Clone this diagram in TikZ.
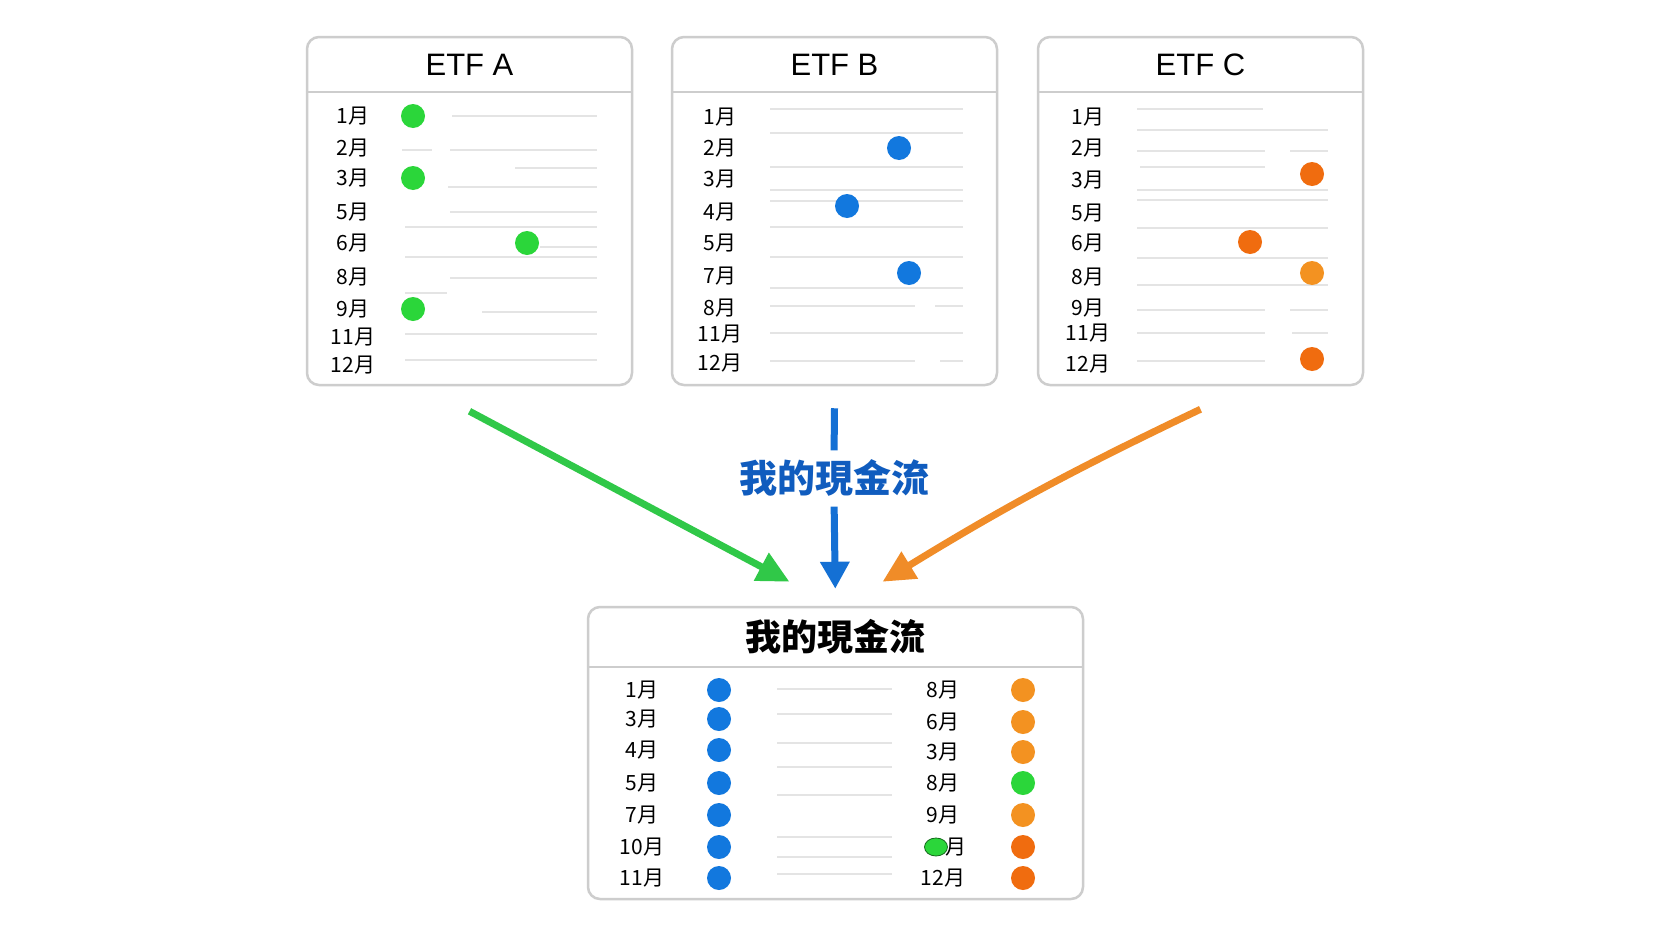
\documentclass[tikz,border=0pt]{standalone}
\usepackage{fontspec}
\setmainfont{Liberation Sans}
\newfontfamily\cjk{Noto Sans CJK TC}
\usetikzlibrary{arrows.meta,shapes.geometric}

\begin{document}
\begin{tikzpicture}[x=1pt,y=-1pt,
    box/.style={draw=my_frame, line width=2.5pt, rounded corners=12pt, fill=white},
    divider/.style={draw=my_frame, line width=2.5pt},
    head/.style={font=\fontsize{31}{31}\selectfont, inner sep=0pt},
    mon/.style={font=\cjk\fontsize{21}{21}\selectfont, inner sep=0pt},
    coin/.style={circle, inner sep=0pt, minimum size=24pt},
    gridline/.style={draw=my_rule, line width=1.5pt}]
\definecolor{my_frame}{RGB}{205,205,205}
\definecolor{my_rule}{RGB}{228,228,228}
\definecolor{my_green}{RGB}{43,214,58}
\definecolor{my_green_arrow}{RGB}{48,200,72}
\definecolor{my_blue}{RGB}{18,120,222}
\definecolor{my_blue_arrow}{RGB}{20,112,212}
\definecolor{my_blue_text}{RGB}{16,92,190}
\definecolor{my_orange}{RGB}{243,146,33}
\definecolor{my_orange_dark}{RGB}{240,108,15}
\definecolor{my_orange_arrow}{RGB}{240,140,40}

\useasboundingbox[fill=white] (0,0) rectangle (1666,937);

% the three ETF boxes and the sum box
\node[box, minimum width=325pt, minimum height=348pt] (etfA) at (469.5,211) {};
\node[box, minimum width=325pt, minimum height=348pt] (etfB) at (834.5,211) {};
\node[box, minimum width=325pt, minimum height=348pt] (etfC) at (1200.5,211) {};
\node[box, minimum width=495pt, minimum height=292pt] (sum) at (835.5,753) {};

\foreach \b/\t in {etfA/ETF A,etfB/ETF B,etfC/ETF C} {
    \node[head] (t\b) at ([yshift=-29pt]\b.north) {\t};
    \draw[divider] ([yshift=-56pt]\b.north west) -- ([yshift=-56pt]\b.north east);
}
\node[head, font=\cjk\bfseries\fontsize{36}{36}\selectfont] (tsum) at ([yshift=-31pt]sum.north) {我的現金流};
\draw[divider] ([yshift=-61pt]sum.north west) -- ([yshift=-61pt]sum.north east);

% faint rules
\foreach \y/\a/\b in {116/452/597,150/450/597,150/402/432,168/515/597,187/448/597,
    212/450/597,227/405/597,247/540/597,257/405/597,278/450/597,293/405/447,
    312/482/597,334/405/597,360/405/597,
    109/770/963,133/770/963,167/770/963,190/770/963,201/770/963,227/770/963,
    257/770/963,288/770/963,306/770/915,306/935/963,333/770/963,361/770/915,361/940/963,
    109/1137/1263,130/1137/1328,151/1137/1265,151/1290/1328,167/1140/1265,
    190/1137/1328,200/1137/1328,228/1137/1328,258/1137/1328,285/1137/1328,
    310/1137/1265,310/1290/1328,333/1137/1265,333/1292/1328,361/1137/1265,
    689/777/892,714/777/892,743/777/892,767/777/892,795/777/892,837/777/892,
    857/777/892,874/777/892}
    \draw[gridline] (\a,\y) -- (\b,\y);

% ETF A
\foreach \m/\y in {1/116,2/148,3/178,5/212,6/243,8/277,9/309,11/337,12/365}
    \node[mon] (a\m) at (353,\y) {{\m}月};
\foreach \m/\x in {1/413,3/413,6/527,9/413}
    \node[coin, fill=my_green] (ad\m) at (\x,0|-a\m) {};

% ETF B
\foreach \m/\y in {1/117,2/148,3/179,4/212,5/243,7/276,8/308,11/334,12/363}
    \node[mon] (b\m) at (720,\y) {{\m}月};
\node[coin, fill=my_blue] (bd2) at (899,148) {};
\node[coin, fill=my_blue] (bd4) at (847,206) {};
\node[coin, fill=my_blue] (bd7) at (909,273) {};

% ETF C
\foreach \m/\y in {1/117,2/148,3/180,5/213,6/243,8/277,9/308,11/333,12/364}
    \node[mon] (c\m) at (1088,\y) {{\m}月};
\node[coin, fill=my_orange_dark] (cd3) at (1312,174) {};
\node[coin, fill=my_orange_dark] (cd6) at (1250,242) {};
\node[coin, fill=my_orange] (cd8) at (1312,273) {};
\node[coin, fill=my_orange_dark] (cd12) at (1312,359) {};

% my cash flow
\foreach \m/\y [count=\i] in {1/690,3/719,4/750,5/783,7/815,10/847,11/878} {
    \node[mon] (s\i) at (642,\y) {{\m}月};
    \node[coin, fill=my_blue] (sd\i) at (719,\y) {};
}
\foreach \m/\y/\c [count=\i] in {8/690/my_orange,6/722/my_orange,3/752/my_orange,
    8/783/my_green,9/815/my_orange,12/878/my_orange_dark} {
    \node[mon] (r\i) at (943,\y) {{\m}月};
    \node[coin, fill=\c] (rd\i) at (1023,\y) {};
}
\node[mon] (r10) at (956,847) {月};
\node[coin, fill=my_orange_dark] (rd10) at (1023,847) {};
\node[coin, ellipse, fill=my_green, draw=my_green!50!black, line width=0.8pt,
      minimum width=23pt, minimum height=18pt] (rg) at (936,847) {};

% arrows into the sum box
\draw[my_green_arrow, line width=7pt, -{Triangle[length=32pt,width=30pt]}]
    ([yshift=-25pt]etfA.south) -- ([xshift=-46pt,yshift=24pt]sum.north);
\node[font=\cjk\bfseries\fontsize{38}{38}\selectfont, text=my_blue_text, inner sep=0pt]
    (flow) at (834,478) {我的現金流};
\draw[my_blue_arrow, line width=7pt, shorten >=9pt] ([yshift=-22pt]etfB.south) -- (flow.north);
\draw[my_blue_arrow, line width=7pt, shorten <=10pt, shorten >=17pt,
      -{Triangle[length=27pt,width=28pt]}] (flow.south) -- (sum.north);
\draw[my_orange_arrow, line width=7pt, -{Triangle[length=32pt,width=30pt]}]
    ([yshift=-23pt]etfC.south) to[bend right=3] ([xshift=47pt,yshift=24pt]sum.north);
\end{tikzpicture}
\end{document}
